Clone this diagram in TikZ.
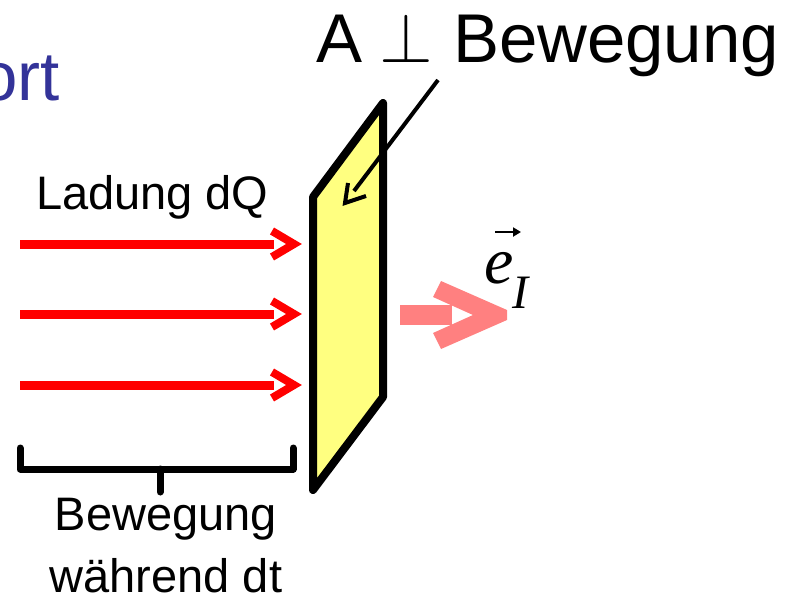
\documentclass[tikz,border=0pt]{standalone}
\usepackage{fontspec}
\usepackage{unicode-math}
\setmainfont{Liberation Sans}
\setmathfont{Latin Modern Math}
\newfontfamily\serifit{Liberation Serif}
\usetikzlibrary{arrows.meta}
\definecolor{titleblue}{HTML}{333399}
\definecolor{pinkarrow}{HTML}{FF8080}
\definecolor{platefill}{HTML}{FFFF80}
\begin{document}
\begin{tikzpicture}[x=1pt,y=-1pt,
  lbl/.style={inner sep=0pt, outer sep=0pt, font=\fontsize{47}{56}\selectfont},
  big/.style={lbl, font=\fontsize{69}{80}\selectfont},
  redshaft/.style={red, line width=9pt},
  redhead/.style={red, line width=8pt, line join=miter, miter limit=10},
  blackline/.style={black, line width=4pt},
  bracket/.style={black, line width=7pt, line cap=round, line join=round}]
\useasboundingbox (0,0) rectangle (803,598);
\clip (0,0) rectangle (803,598);

% title fragment
\node[big, anchor=base east, text=titleblue] (ort) at (60,100) {ort};
% heading
\node[big, anchor=base west] (hA) at (316,62) {A};
\node[big, anchor=base] (hperp) at (406,62) {$\perp$};
\node[big, anchor=base west] (hB) at (453,62) {Bewegung};

% plate
\coordinate (p1) at (313,197);
\coordinate (p2) at (383,103);
\coordinate (p3) at (383,397);
\coordinate (p4) at (313,490);
\draw[line width=8pt, line join=round, fill=platefill] (p1) -- (p2) -- (p3) -- (p4) -- cycle;

% black pointer
\coordinate (bt) at (438,80);
\coordinate (be) at (354,191);
\coordinate (btip) at (345,203);
\draw[blackline, line cap=butt] (bt) -- (be);
\draw[blackline, line join=miter] (348,183) -- (btip) -- (366,196);

% label Ladung dQ
\node[lbl, anchor=base west] (ladung) at (36,209) {Ladung dQ};

% red arrows
\foreach \y/\n in {244/a,314/b,385/c}{
  \coordinate (s\n) at (20,\y);
  \coordinate (e\n) at (274,\y);
  \draw[redshaft] (s\n) -- (e\n);
  \draw[redhead] (272,\y-13) -- (294,\y) -- (272,\y+13);
}

% pink arrow
\fill[pinkarrow] (400,305) rectangle (452,325);
\fill[pinkarrow] (441,281) -- (507,310) -- (507,320) -- (441,349) -- (433,333) -- (473,315) -- (433,297) -- cycle;

% e_I
\node[lbl, anchor=base west, font=\fontsize{66}{70}\serifit\itshape] (e) at (484,283) {e};
\node[lbl, anchor=base west, font=\fontsize{48}{56}\serifit\itshape] (I) at (512,308) {I};
\draw[line width=2.5pt, -{Triangle[length=8pt,width=9pt]}] (495,232) -- (521,232);

% bracket
\coordinate (bl) at (20,448);
\coordinate (br) at (293,448);
\coordinate (bm) at (160,469);
\draw[bracket] (bl) -- (20,469) -- (293,469) -- (br);
\draw[bracket] (bm) -- (160,492);

\node[lbl, anchor=base] (bew) at (166,530) {Bewegung};
\node[lbl, anchor=base] (dt) at (166,592) {während dt};
\end{tikzpicture}
\end{document}
